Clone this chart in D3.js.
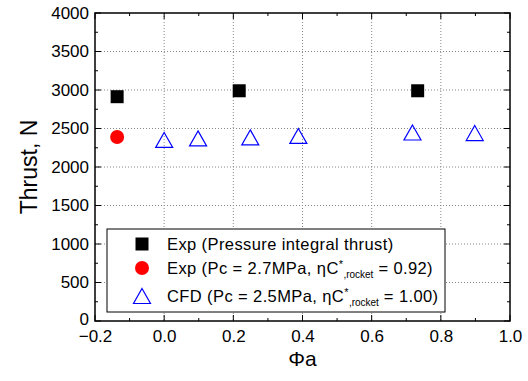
<!DOCTYPE html>
<html><head><meta charset="utf-8">
<script src="https://cdn.jsdelivr.net/npm/d3@7"></script>
<style>body{margin:0;background:#fff}svg{display:block}text{font-family:"Liberation Sans",Arial,sans-serif}</style>
</head><body><svg id="c" width="528" height="381"></svg>
<script>
const squareX = [-0.136, 0.217, 0.733];
const squareY = [2913, 2990, 2990];
const circleX = [-0.136];
const circleY = [2390];
const triX = [0.0, 0.098, 0.249, 0.388, 0.718, 0.898];
const triY = [2351, 2372, 2385, 2403, 2448, 2441];
const xTicks = [-0.2, 0.0, 0.2, 0.4, 0.6, 0.8, 1.0];
const yTicks = [0, 500, 1000, 1500, 2000, 2500, 3000, 3500, 4000];
const legendLabels = ["Exp (Pressure integral thrust)", "Exp (Pc = 2.7MPa, ηC*,rocket = 0.92)", "CFD (Pc = 2.5MPa, ηC*,rocket = 1.00)"];

const svg = d3.select("#c");
const L = 95, R = 510, T = 13, B = 321;
const x = d3.scaleLinear().domain([-0.2, 1.0]).range([L, R]);
const y = d3.scaleLinear().domain([0, 4000]).range([B, T]);

// grid
const g = svg.append("g");
g.selectAll(".gx").data(xTicks.slice(1, -1)).join("line")
  .attr("x1", d => x(d)).attr("x2", d => x(d)).attr("y1", T).attr("y2", B)
  .attr("stroke", "#888").attr("stroke-width", 1).attr("stroke-dasharray", "1,2");
g.selectAll(".gy").data(yTicks.slice(1, -1)).join("line")
  .attr("y1", d => y(d)).attr("y2", d => y(d)).attr("x1", L).attr("x2", R)
  .attr("stroke", "#888").attr("stroke-width", 1).attr("stroke-dasharray", "1,2");

// axes with inward ticks
const minorX = d3.range(-0.2, 1.0001, 0.1).map(v => +v.toFixed(2));
const minorY = d3.range(0, 4001, 250);
const fmtX = d => d.toFixed(1).replace("-", "\u2212");
svg.append("g").attr("transform", `translate(0,${B})`)
  .call(d3.axisBottom(x).tickValues(xTicks).tickFormat(fmtX).tickSize(0).tickPadding(9))
  .call(s => s.select(".domain").remove())
  .call(s => s.selectAll("text").attr("font-size", 17).attr("fill", "#000"));
svg.append("g").attr("transform", `translate(${L},0)`)
  .call(d3.axisLeft(y).tickValues(yTicks).tickFormat(d3.format("d")).tickSize(0).tickPadding(6))
  .call(s => s.select(".domain").remove())
  .call(s => s.selectAll("text").attr("font-size", 17).attr("fill", "#000")
    .attr("dy", d => d === 0 ? "0.2em" : "0.32em"));

const tk = svg.append("g").attr("stroke", "#000").attr("stroke-width", 1);
minorX.forEach((v, i) => {
  const len = i % 2 === 0 ? 6 : 3;
  tk.append("line").attr("x1", x(v)).attr("x2", x(v)).attr("y1", B).attr("y2", B - len);
  tk.append("line").attr("x1", x(v)).attr("x2", x(v)).attr("y1", T).attr("y2", T + len);
});
minorY.forEach((v, i) => {
  const len = i % 2 === 0 ? 6 : 3;
  tk.append("line").attr("y1", y(v)).attr("y2", y(v)).attr("x1", L).attr("x2", L + len);
  tk.append("line").attr("y1", y(v)).attr("y2", y(v)).attr("x1", R).attr("x2", R - len);
});
svg.append("rect").attr("x", L).attr("y", T).attr("width", R - L).attr("height", B - T)
  .attr("fill", "none").attr("stroke", "#000").attr("stroke-width", 1.5);

// axis titles
svg.append("text").attr("transform", `translate(37,${(T + B) / 2}) rotate(-90)`)
  .attr("text-anchor", "middle").attr("font-size", 23).text("Thrust, N");
svg.append("text").attr("x", (L + R) / 2).attr("y", 366).attr("text-anchor", "middle")
  .attr("font-size", 21).text("Φa");

// markers
const sq = 13;
svg.selectAll(".sq").data(squareX).join("rect")
  .attr("x", (d, i) => x(d) - sq / 2).attr("y", (d, i) => y(squareY[i]) - sq / 2)
  .attr("width", sq).attr("height", sq).attr("fill", "#000");
svg.selectAll(".ci").data(circleX).join("circle")
  .attr("cx", d => x(d)).attr("cy", (d, i) => y(circleY[i])).attr("r", 7).attr("fill", "#f00");
const tri = (cx, cy) => { const w = 8.5, h = 7.5; return `M${cx},${cy - h}L${cx + w},${cy + h}L${cx - w},${cy + h}Z`; };
svg.selectAll(".tr").data(triX).join("path")
  .attr("d", (d, i) => tri(x(d), y(triY[i]))).attr("fill", "none").attr("stroke", "#00f").attr("stroke-width", 1.2);

// legend
const lg = svg.append("g");
lg.append("rect").attr("x", 107).attr("y", 229).attr("width", 338).attr("height", 83)
  .attr("fill", "#fff").attr("stroke", "#000").attr("stroke-width", 1);
const ly = [244, 268, 296];
lg.append("rect").attr("x", 142 - 6.5).attr("y", ly[0] - 6.5).attr("width", 13).attr("height", 13).attr("fill", "#000");
lg.append("circle").attr("cx", 142).attr("cy", ly[1]).attr("r", 7).attr("fill", "#f00");
lg.append("path").attr("d", tri(142, ly[2])).attr("fill", "none").attr("stroke", "#00f").attr("stroke-width", 1.2);
const fs = 16.5;
lg.append("text").attr("x", 167).attr("y", ly[0] + 6).attr("font-size", fs)
  .attr("letter-spacing", 0.4).text(legendLabels[0]);
function richLabel(yy, pre, post) {
  const t = lg.append("text").attr("x", 167).attr("y", yy + 6).attr("font-size", fs).attr("letter-spacing", 0.4);
  t.append("tspan").text(pre);
  t.append("tspan").attr("dy", -6).attr("font-size", 11).text("*");
  t.append("tspan").attr("dy", 10).attr("font-size", 10).attr("letter-spacing", 0).text(",rocket");
  t.append("tspan").attr("dy", -4).text(post);
}
richLabel(ly[1], "Exp (Pc = 2.7MPa, ηC", " = 0.92)");
richLabel(ly[2], "CFD (Pc = 2.5MPa, ηC", " = 1.00)");
</script></body></html>
